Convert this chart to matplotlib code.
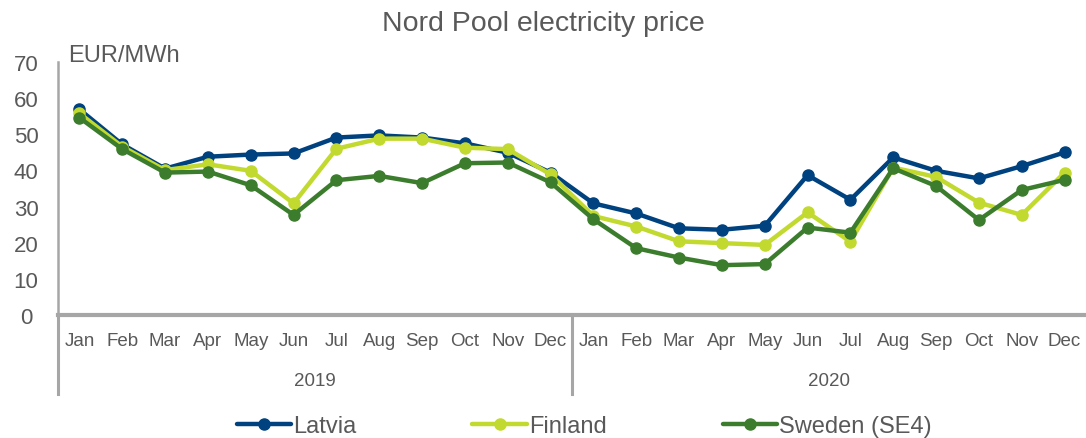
import matplotlib.pyplot as plt
from matplotlib import transforms

# data (EUR/MWh, monthly)
months = ["Jan", "Feb", "Mar", "Apr", "May", "Jun", "Jul", "Aug", "Sep", "Oct", "Nov", "Dec"]
years = ["2019", "2020"]

latvia = [56.9, 47.2, 40.5, 43.8, 44.4, 44.7, 49.1, 49.7, 49.1, 47.5, 44.9, 39.4,
          30.9, 28.1, 24.0, 23.6, 24.7, 38.7, 31.9, 43.6, 39.9, 37.8, 41.2, 45.0]
finland = [55.8, 46.6, 40.1, 41.7, 39.9, 30.9, 46.0, 48.8, 48.8, 46.3, 45.9, 38.9,
           27.4, 24.5, 20.4, 19.9, 19.4, 28.4, 20.3, 40.8, 38.2, 31.1, 27.7, 39.4]
sweden = [54.6, 45.9, 39.4, 39.7, 35.9, 27.7, 37.3, 38.5, 36.5, 42.0, 42.2, 36.7,
          26.5, 18.5, 15.9, 13.8, 14.1, 24.2, 22.8, 40.6, 35.7, 26.3, 34.6, 37.4]

series = [("Latvia", latvia, "#00427F"),
          ("Finland", finland, "#C2D92F"),
          ("Sweden (SE4)", sweden, "#3B7D2D")]

plt.rcParams['font.family'] = ['Liberation Sans', 'DejaVu Sans']
grey = "#595959"
axis_grey = "#A6A6A6"

fig = plt.figure(figsize=(10.86, 4.39), dpi=100)
ax = fig.add_axes([0.0534, 0.280, 0.9466, 0.5765])

x = list(range(len(latvia)))
for name, vals, col in series:
    ax.plot(x, vals, color=col, lw=3.2, marker="o", ms=8, label=name,
            solid_capstyle="round", solid_joinstyle="round")

ax.set_xlim(-0.5, len(x) - 0.5)
ax.set_ylim(0, 70)
ax.set_yticks(range(0, 71, 10))
ax.tick_params(axis="y", length=0, labelsize=16, labelcolor=grey, pad=23)
for lab in ax.get_yticklabels():
    lab.set_horizontalalignment("center")

ax.set_xticks(x)
ax.set_xticklabels(months * len(years), fontsize=13.5, color=grey)
ax.tick_params(axis="x", length=0, pad=12)

for s in ["top", "right"]:
    ax.spines[s].set_visible(False)
ax.spines["left"].set_color(axis_grey)
ax.spines["left"].set_linewidth(1.8)
ax.spines["bottom"].set_color(axis_grey)
ax.spines["bottom"].set_linewidth(3)

# year group labels and separators
trans = transforms.blended_transform_factory(ax.transData, ax.transAxes)
for i, yr in enumerate(years):
    ax.text(i * 12 + 5.5, -0.257, yr, transform=trans, ha="center", va="center",
            fontsize=13.5, color=grey)
for b in [-0.5, 11.5]:
    ax.plot([b, b], [0, -0.31], transform=trans, color=axis_grey, lw=2.2, clip_on=False)

ax.text(0.01, 1.028, "EUR/MWh", transform=ax.transAxes, fontsize=17, color=grey,
        ha="left", va="center")

fig.suptitle("Nord Pool electricity price", y=0.975, fontsize=20.5, color=grey)

leg = ax.legend(loc="center", bbox_to_anchor=(0.512, -0.44), ncol=3, frameon=False,
                fontsize=17, handlelength=2.3, columnspacing=4.9, handletextpad=0.1,
                borderaxespad=0)
for t in leg.get_texts():
    t.set_color(grey)

fig.savefig("out.png", dpi=100)
